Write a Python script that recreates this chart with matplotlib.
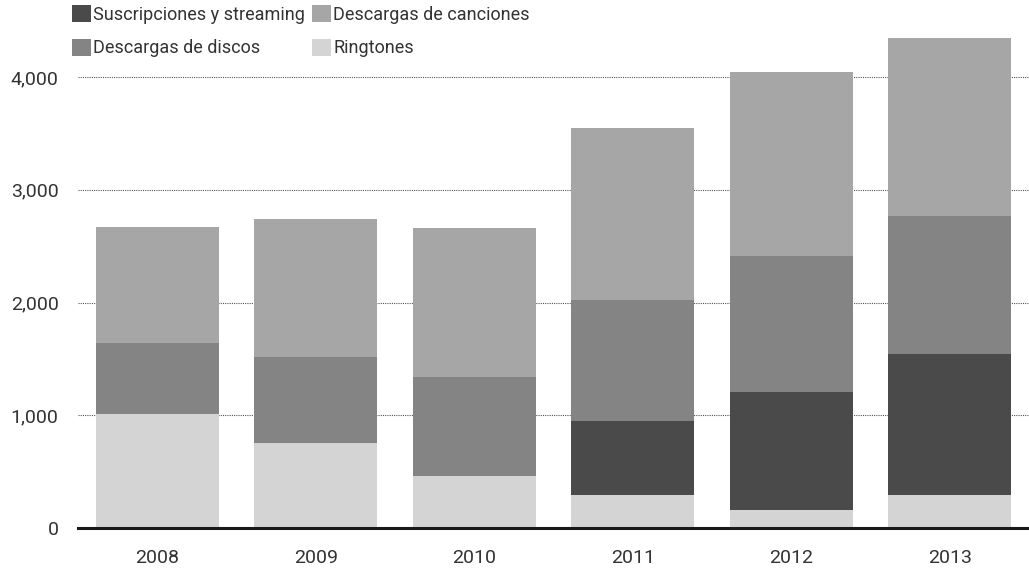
import numpy as np
import matplotlib
matplotlib.use("Agg")
import matplotlib.pyplot as plt

# === DATA ===
years = ["2008", "2009", "2010", "2011", "2012", "2013"]
ringtones = [1010, 752, 459, 292, 158, 292]
streaming = [0, 0, 0, 657, 1049, 1253]
discos = [631, 765, 880, 1071, 1203, 1220]
canciones = [1030, 1225, 1324, 1531, 1637, 1584]
y_ticks = [0, 1000, 2000, 3000, 4000]
y_tick_labels = ["0", "1,000", "2,000", "3,000", "4,000"]

# === STYLE ===
plt.rcParams['font.family'] = ['Roboto', 'DejaVu Sans']
TXT = "#333333"
C_STREAM = "#4a4a4a"
C_CANC = "#a6a6a6"
C_DISC = "#848484"
C_RING = "#d4d4d4"

fig = plt.figure(figsize=(10.29, 5.69), dpi=100)
ax = fig.add_axes([0.0758, 0.072, 0.9242, 0.928])

x = np.arange(len(years))
w = 0.775
ring = np.array(ringtones)
strm = np.array(streaming)
disc = np.array(discos)
canc = np.array(canciones)

b_ring = ax.bar(x, ring, w, color=C_RING, zorder=2, label="Ringtones")
b_strm = ax.bar(x, strm, w, bottom=ring, color=C_STREAM, zorder=2, label="Suscripciones y streaming")
b_disc = ax.bar(x, disc, w, bottom=ring + strm, color=C_DISC, zorder=2, label="Descargas de discos")
b_canc = ax.bar(x, canc, w, bottom=ring + strm + disc, color=C_CANC, zorder=2, label="Descargas de canciones")

ax.set_xlim(-0.5, 5.5)
ax.set_ylim(0, 4683)
ax.set_xticks(x)
ax.set_xticklabels(years)
ax.set_yticks(y_ticks)
ax.set_yticklabels(y_tick_labels)
ax.tick_params(axis='both', length=0, labelsize=14, labelcolor=TXT)
ax.tick_params(axis='y', pad=14)
ax.tick_params(axis='x', pad=15)

for v in y_ticks[1:]:
    ax.axhline(v, color="#555555", lw=0.8, ls=(0, (1, 1)), zorder=1)
ax.axhline(0, color="#1a1a1a", lw=2.2, zorder=3, clip_on=False)

for s in ax.spines.values():
    s.set_visible(False)

# legend: two columns, drawn as two legends
kw = dict(frameon=False, fontsize=13, handlelength=1.05, handleheight=1.05,
          handletextpad=0.12, labelspacing=0.85, borderpad=0, borderaxespad=0,
          loc="upper left", labelcolor=TXT)
leg1 = fig.legend([b_strm, b_disc], ["Suscripciones y streaming", "Descargas de discos"],
                  bbox_to_anchor=(72 / 1029, 1 - 5 / 569), **kw)
leg2 = fig.legend([b_canc, b_ring], ["Descargas de canciones", "Ringtones"],
                  bbox_to_anchor=(312 / 1029, 1 - 5 / 569), **kw)

fig.savefig("out.png", dpi=100)
